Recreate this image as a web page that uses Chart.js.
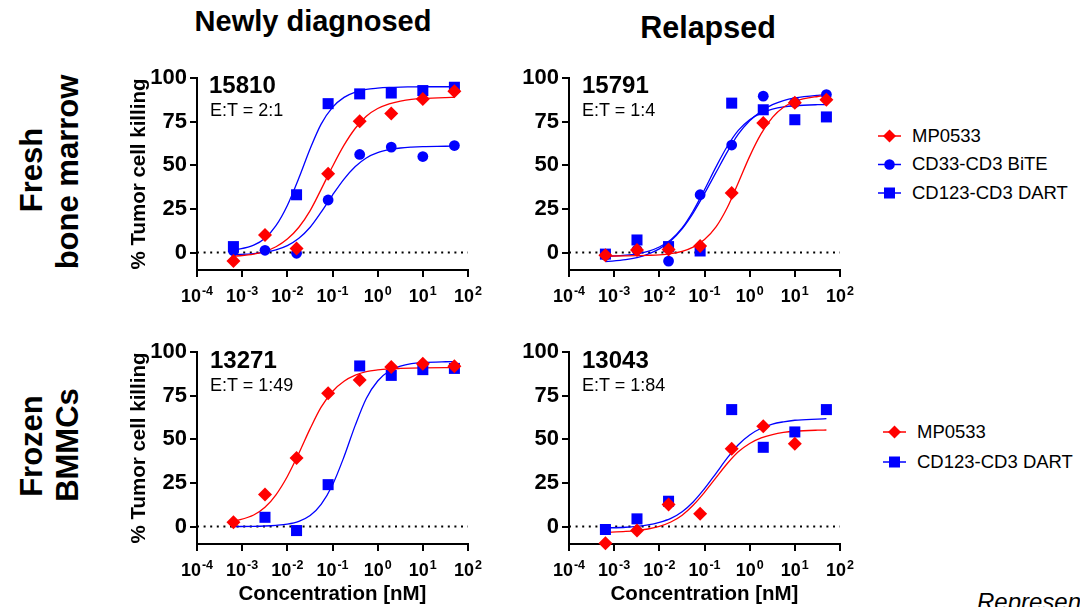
<!DOCTYPE html>
<html><head><meta charset="utf-8">
<script src="https://cdn.jsdelivr.net/npm/chart.js@4.4.1/dist/chart.umd.min.js"></script>
<style>
html,body{margin:0;padding:0;}
body{width:1080px;height:607px;overflow:hidden;background:#fff;position:relative;font-family:"Liberation Sans",Arial,sans-serif;color:#000;}
.abs{position:absolute;white-space:nowrap;line-height:1;}
.rot{position:absolute;transform:translate(-50%,-50%) rotate(-90deg);white-space:nowrap;font-weight:bold;font-size:31px;line-height:1;}
.ctr{transform:translateX(-50%);}
.pid{font-weight:bold;font-size:24px;}
.et{font-size:18px;}
.leg{font-size:18.5px;}
canvas{position:absolute;}
</style>
</head><body>

<div class="abs ctr" style="left:313px;top:7px;font-size:29px;font-weight:bold;">Newly diagnosed</div>
<div class="abs ctr" style="left:708px;top:12px;font-size:30.5px;font-weight:bold;">Relapsed</div>

<div class="rot" style="left:31px;top:170px;">Fresh</div>
<div class="rot" style="left:67px;top:172px;">bone marrow</div>
<div class="rot" style="left:31px;top:446px;">Frozen</div>
<div class="rot" style="left:67px;top:445px;">BMMCs</div>

<canvas id="c1" width="390" height="255" style="left:110px;top:58px;"></canvas>
<canvas id="c2" width="370" height="255" style="left:500px;top:58px;"></canvas>
<canvas id="c3" width="390" height="275" style="left:110px;top:332px;"></canvas>
<canvas id="c4" width="370" height="275" style="left:500px;top:332px;"></canvas>

<div class="abs pid" style="left:209px;top:73px;">15810</div>
<div class="abs et" style="left:210px;top:101px;">E:T = 2:1</div>
<div class="abs pid" style="left:582px;top:73px;">15791</div>
<div class="abs et" style="left:582px;top:101px;">E:T = 1:4</div>
<div class="abs pid" style="left:210px;top:348px;">13271</div>
<div class="abs et" style="left:210px;top:376px;">E:T = 1:49</div>
<div class="abs pid" style="left:582px;top:348px;">13043</div>
<div class="abs et" style="left:582px;top:376px;">E:T = 1:84</div>

<!-- legends -->
<svg class="abs" style="left:876px;top:126px;" width="30" height="80">
  <line x1="2" y1="10" x2="25" y2="10" stroke="#ff0000" stroke-width="1.5"/>
  <polygon points="13.5,3.5 20,10 13.5,16.5 7,10" fill="#ff0000"/>
  <line x1="2" y1="38.5" x2="25" y2="38.5" stroke="#0000ff" stroke-width="1.5"/>
  <circle cx="13.5" cy="38.5" r="5.3" fill="#0000ff"/>
  <line x1="2" y1="67" x2="25" y2="67" stroke="#0000ff" stroke-width="1.5"/>
  <rect x="8" y="61.5" width="11" height="11" fill="#0000ff"/>
</svg>
<div class="abs leg" style="left:912px;top:127px;">MP0533</div>
<div class="abs leg" style="left:912px;top:155px;">CD33-CD3 BiTE</div>
<div class="abs leg" style="left:912px;top:184px;">CD123-CD3 DART</div>

<svg class="abs" style="left:881px;top:422px;" width="30" height="60">
  <line x1="2" y1="10" x2="25" y2="10" stroke="#ff0000" stroke-width="1.5"/>
  <polygon points="13.5,3.5 20,10 13.5,16.5 7,10" fill="#ff0000"/>
  <line x1="2" y1="40" x2="25" y2="40" stroke="#0000ff" stroke-width="1.5"/>
  <rect x="8" y="34.5" width="11" height="11" fill="#0000ff"/>
</svg>
<div class="abs leg" style="left:917px;top:423px;">MP0533</div>
<div class="abs leg" style="left:917px;top:453px;">CD123-CD3 DART</div>

<div class="abs" style="left:977px;top:590px;font-size:24px;font-style:italic;">Representative donors</div>

<script>
// ---------- data ----------
const concentrations = [0.00064, 0.0032, 0.016, 0.08, 0.4, 2, 10, 50];
const curveX = [0.00064, 0.0018, 0.0032, 0.0056, 0.01, 0.018, 0.032, 0.056, 0.1, 0.18, 0.32, 0.56, 1, 1.8, 3.2, 5.6, 10, 32, 50];
const xTicks = [1e-4, 1e-3, 1e-2, 1e-1, 1, 10, 100];
const yTicks = [0, 25, 50, 75, 100];

// Fresh bone marrow, newly diagnosed (15810)
const nd_mp0533 = [-4.8, 10.1, 2.3, 45.1, 75.2, 79.6, 88.0, 92.4];
const nd_bite   = [1.0, 1.3, -0.4, 30.1, 56.2, 60.4, 55.0, 61.3];
const nd_dart   = [3.4, null, 33.1, 85.3, 90.9, 91.4, 92.8, 94.7];
const nd_mp0533_fit = [-2.2, -0.9, 0.7, 3.3, 7.7, 14.5, 24.0, 36.2, 49.3, 61.5, 71.2, 78.1, 82.5, 85.2, 86.8, 87.8, 88.3, 88.8, 88.9];
const nd_bite_fit   = [-1.2, -0.6, 0.2, 1.6, 4.0, 8.2, 14.5, 23.1, 32.9, 42.1, 49.3, 54.2, 57.2, 58.9, 59.9, 60.4, 60.7, 60.9, 61.0];
const nd_dart_fit   = [1.2, 4.2, 8.2, 15.4, 27.0, 42.7, 59.5, 73.6, 83.2, 88.9, 91.9, 93.5, 94.2, 94.6, 94.8, 94.9, 95.0, 95.0, 95.0];

// Fresh bone marrow, relapsed (15791)
const rel_mp0533 = [-1.5, 1.5, 1.7, 3.8, 34.1, 74.2, 85.8, 87.5];
const rel_bite   = [-1.5, 1.5, -4.9, 33.1, 61.6, 89.6, 86.0, 90.5];
const rel_dart   = [-0.9, 7.2, 3.4, 0.9, 85.6, 81.8, 76.1, 77.7];
const rel_mp0533_fit = [-2.0, -1.9, -1.8, -1.6, -1.3, -0.6, 0.7, 3.1, 7.5, 14.7, 25.8, 40.0, 55.1, 68.1, 77.4, 83.2, 86.6, 89.4, 89.9];
const rel_bite_fit   = [-5.2, -4.1, -2.9, -0.9, 2.1, 6.8, 13.6, 22.6, 33.8, 45.9, 57.7, 67.8, 75.5, 81.0, 84.7, 87.1, 88.6, 90.1, 90.4];
const rel_dart_fit   = [-2.2, -1.5, -0.7, 0.7, 3.2, 7.4, 14.1, 23.8, 36.0, 49.1, 60.9, 70.0, 76.1, 79.9, 82.1, 83.4, 84.1, 84.7, 84.8];

// Frozen BMMCs, newly diagnosed (13271)
const frzNd_mp0533 = [2.5, 18.3, 39.3, 76.3, 84.0, 91.4, 93.3, 91.8];
const frzNd_dart   = [null, 5.3, -2.3, 24.0, 92.0, 86.6, 89.9, 90.6];
const frzNd_mp0533_fit = [2.9, 6.6, 11.0, 18.2, 28.7, 42.0, 56.1, 68.4, 77.4, 83.2, 86.7, 88.7, 89.7, 90.3, 90.6, 90.8, 90.9, 91.0, 91.0];
const frzNd_dart_fit   = [0.0, 0.1, 0.3, 0.7, 1.4, 3.0, 6.3, 12.7, 23.8, 40.0, 58.1, 73.4, 83.4, 89.1, 91.9, 93.3, 93.9, 94.4, 94.5];

// Frozen BMMCs, relapsed (13043)
const frzRel_mp0533 = [-9.5, -2.3, 12.6, 7.3, 44.5, 57.4, 47.5, null];
const frzRel_dart   = [-1.7, 4.4, 14.5, null, 67.0, 45.4, 54.2, 67.0];
const frzRel_mp0533_fit = [-3.3, -2.8, -2.3, -1.4, 0.1, 2.6, 6.5, 12.2, 19.6, 28.0, 36.1, 42.8, 47.6, 50.8, 52.7, 53.9, 54.6, 55.2, 55.3];
const frzRel_dart_fit   = [-0.8, -0.4, 0.1, 0.9, 2.4, 4.7, 8.5, 14.1, 21.7, 30.5, 39.3, 46.9, 52.5, 56.3, 58.7, 60.0, 60.9, 61.6, 61.8];

// ---------- helpers ----------
const RED = '#ff0000', BLUE = '#0000ff';
const FONT = '"Liberation Sans", Arial, sans-serif';
function pts(xs, ys) { return xs.map((x, i) => ({x: x, y: ys[i]})).filter(p => p.y !== null); }

const styles = {
  MP0533: {color: RED, pointStyle: 'rectRot', radius: 7},
  'CD33-CD3 BiTE': {color: BLUE, pointStyle: 'circle', radius: 5.4},
  'CD123-CD3 DART': {color: BLUE, pointStyle: 'rect', radius: 7.8}
};

function scatterSet(name, ys) {
  const s = styles[name];
  return {label: name, data: pts(concentrations, ys), showLine: false, pointStyle: s.pointStyle,
    pointRadius: s.radius, pointBackgroundColor: s.color, pointBorderColor: s.color, pointBorderWidth: 0,
    clip: false};
}
function fitSet(name, ys) {
  const s = styles[name];
  return {label: name + ' fit', data: pts(curveX, ys), showLine: true, borderColor: s.color, borderWidth: 1.3,
    pointRadius: 0, cubicInterpolationMode: 'monotone', fill: false, clip: false};
}
function zeroSet() {
  return {label: 'zero', data: [{x: xTicks[0], y: 0}, {x: xTicks[xTicks.length - 1], y: 0}], showLine: true,
    borderColor: '#000', borderWidth: 2, borderDash: [2, 4.6], pointRadius: 0, fill: false};
}

const superTicks = {
  id: 'superTicks',
  afterDraw(chart) {
    const s = chart.scales.x, ctx = chart.ctx;
    ctx.save();
    ctx.fillStyle = '#000';
    ctx.textBaseline = 'alphabetic';
    ctx.textAlign = 'left';
    s.ticks.forEach(t => {
      const px = s.getPixelForValue(t.value);
      const base = '10';
      const exp = String(Math.round(Math.log10(t.value)));
      ctx.font = 'bold 18px ' + FONT;
      const wb = ctx.measureText(base).width;
      ctx.font = 'bold 12.5px ' + FONT;
      const we = ctx.measureText(exp).width;
      const x0 = px - (wb + 1 + we) / 2;
      const by = s.top + 32;
      ctx.font = 'bold 18px ' + FONT;
      ctx.fillText(base, x0, by);
      ctx.font = 'bold 12.5px ' + FONT;
      ctx.fillText(exp, x0 + wb + 1, by - 7.5);
    });
    ctx.restore();
  }
};

function makePanel(id, datasets, cfg) {
  const axisCommon = {
    grid: {display: true, drawOnChartArea: false, drawTicks: true, tickLength: 7, color: '#000', lineWidth: 2},
    border: {display: true, color: '#000', width: 2}
  };
  new Chart(document.getElementById(id), {
    type: 'scatter',
    data: {datasets: datasets},
    options: {
      responsive: false, animation: false, events: [],
      layout: {autoPadding: false, padding: {top: 20, right: cfg.padRight, left: 0, bottom: 0}},
      plugins: {legend: {display: false}, tooltip: {enabled: false}},
      scales: {
        x: Object.assign({}, axisCommon, {
          type: 'logarithmic', min: xTicks[0], max: xTicks[xTicks.length - 1],
          afterBuildTicks: s => { s.ticks = xTicks.map(v => ({value: v})); },
          afterFit: s => { s.height = cfg.xHeight; },
          ticks: {display: false},
          title: {display: cfg.xTitle, text: 'Concentration [nM]', color: '#000',
                  font: {family: FONT, size: 20.5, weight: 'bold'}, padding: {top: 0, bottom: 0}}
        }),
        y: Object.assign({}, axisCommon, {
          type: 'linear', min: -10, max: 100,
          afterBuildTicks: s => { s.ticks = yTicks.map(v => ({value: v})); },
          afterFit: s => { s.width = cfg.yWidth; },
          ticks: {color: '#000', padding: 3, font: {family: FONT, size: 22, weight: 'bold'}},
          title: {display: cfg.yTitle, text: '% Tumor cell killing', color: '#000',
                  font: {family: FONT, size: 20.5, weight: 'bold'}, padding: {top: 17, bottom: 0}}
        })
      }
    },
    plugins: [superTicks]
  });
}

makePanel('c1', [
  scatterSet('MP0533', nd_mp0533), scatterSet('CD33-CD3 BiTE', nd_bite), scatterSet('CD123-CD3 DART', nd_dart),
  fitSet('MP0533', nd_mp0533_fit), fitSet('CD33-CD3 BiTE', nd_bite_fit), fitSet('CD123-CD3 DART', nd_dart_fit),
  zeroSet()
], {padRight: 32, xHeight: 43, yWidth: 87, xTitle: false, yTitle: true});

makePanel('c2', [
  scatterSet('MP0533', rel_mp0533), scatterSet('CD33-CD3 BiTE', rel_bite), scatterSet('CD123-CD3 DART', rel_dart),
  fitSet('MP0533', rel_mp0533_fit), fitSet('CD33-CD3 BiTE', rel_bite_fit), fitSet('CD123-CD3 DART', rel_dart_fit),
  zeroSet()
], {padRight: 30, xHeight: 43, yWidth: 69, xTitle: false, yTitle: false});

makePanel('c3', [
  scatterSet('MP0533', frzNd_mp0533), scatterSet('CD123-CD3 DART', frzNd_dart),
  fitSet('MP0533', frzNd_mp0533_fit), fitSet('CD123-CD3 DART', frzNd_dart_fit),
  zeroSet()
], {padRight: 32, xHeight: 63, yWidth: 87, xTitle: true, yTitle: true});

makePanel('c4', [
  scatterSet('MP0533', frzRel_mp0533), scatterSet('CD123-CD3 DART', frzRel_dart),
  fitSet('MP0533', frzRel_mp0533_fit), fitSet('CD123-CD3 DART', frzRel_dart_fit),
  zeroSet()
], {padRight: 30, xHeight: 63, yWidth: 69, xTitle: true, yTitle: false});
</script>
</body></html>
